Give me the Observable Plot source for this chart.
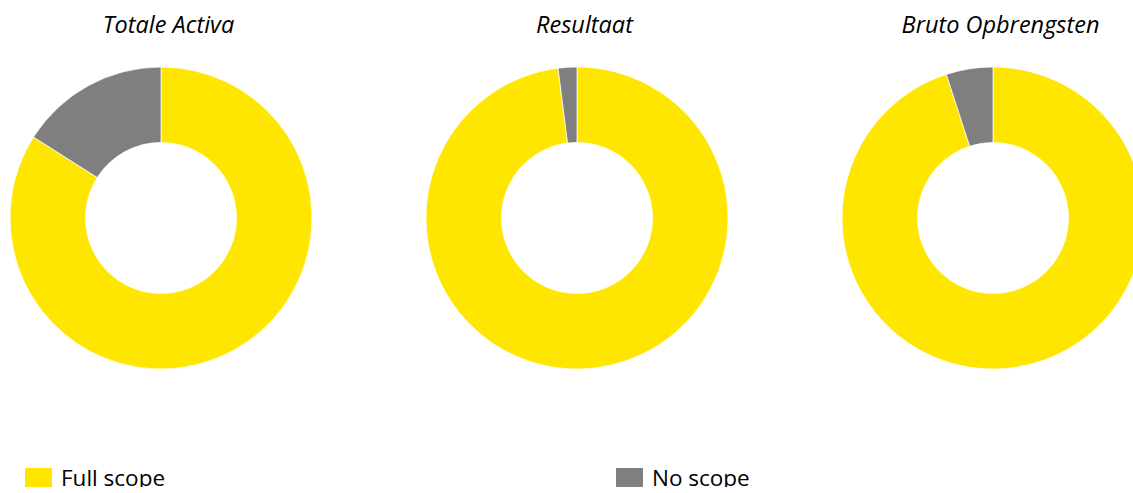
<!DOCTYPE html>
<html>
<head>
<meta charset="utf-8">
<script src="https://cdn.jsdelivr.net/npm/d3@7"></script>
<script src="https://cdn.jsdelivr.net/npm/@observablehq/plot@0.6"></script>
<style>
  html, body { margin: 0; padding: 0; background: #fff; overflow: hidden; }
  #chart svg { display: block; overflow: hidden; }
  .legend { display: flex; padding-left: 25px; margin-top: 13px; font-family: "Open Sans", sans-serif; font-size: 22.5px; color: #000; white-space: nowrap; }
  .legend .item { width: 591px; flex: none; display: flex; align-items: center; }
  .legend .sw { width: 27px; height: 19px; margin-right: 9px; flex: none; }
  .legend .lab { line-height: 19px; }
</style>
</head>
<body>
<div id="chart"></div>
<script>
const charts = ["Totale Activa", "Resultaat", "Bruto Opbrengsten"];
const fullScope = [84, 98, 95];
const noScope = [16, 2, 5];
const categories = ["Full scope", "No scope"];
const colors = ["#FFE600", "#7F7F7F"];

const series = [fullScope, noScope];
const color = d3.scaleOrdinal(categories, colors);

function donuts(index, scales, values, dims) {
  const cy = (dims.marginTop + dims.height - dims.marginBottom) / 2;
  const R = (dims.height - dims.marginTop - dims.marginBottom) / 2;
  const pie = d3.pie().sort(null).value(d => d.value);
  const arc = d3.arc().innerRadius(R * 0.5).outerRadius(R);
  const g = d3.create("svg:g");
  charts.forEach((c, i) => {
    const arcs = pie(categories.map((k, j) => ({key: k, value: series[j][i]})));
    g.append("g")
      .attr("transform", `translate(${scales.x(c)},${cy})`)
      .selectAll("path")
      .data(arcs)
      .join("path")
      .attr("d", arc)
      .attr("fill", d => color(d.data.key))
      .attr("stroke", "#fff")
      .attr("stroke-width", 0.75);
  });
  return g.node();
}

const plot = Plot.plot({
  width: 1133,
  height: 455,
  marginLeft: 160,
  marginRight: 140,
  marginTop: 67,
  marginBottom: 86,
  style: {background: "#fff", fontFamily: "'Open Sans', sans-serif"},
  x: {type: "point", domain: charts, padding: 0, axis: null},
  marks: [
    donuts,
    Plot.text(charts, {
      x: d => d,
      text: d => d,
      frameAnchor: "top",
      lineAnchor: "middle",
      dy: -42,
      dx: 7,
      fontSize: 23.5,
      fontStyle: "italic",
      fill: "#000"
    })
  ]
});
document.getElementById("chart").appendChild(plot);

const legend = d3.select("body").append("div").attr("class", "legend");
categories.forEach(k => {
  const it = legend.append("div").attr("class", "item");
  it.append("div").attr("class", "sw").style("background", color(k));
  it.append("span").attr("class", "lab").text(k);
});
</script>
</body>
</html>
